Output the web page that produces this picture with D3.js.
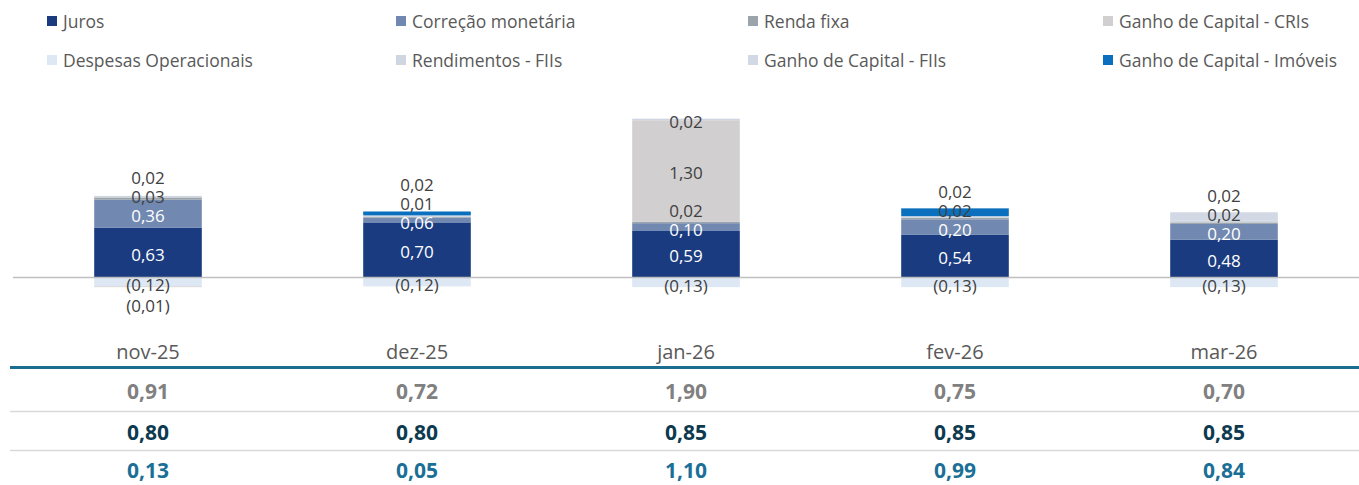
<!DOCTYPE html>
<html>
<head>
<meta charset="utf-8">
<script src="https://cdn.jsdelivr.net/npm/d3@7"></script>
<style>
  html, body { margin: 0; padding: 0; background: #ffffff; }
  svg { display: block; }
  text { font-family: "Open Sans", "Noto Sans", sans-serif; }
</style>
</head>
<body>
<svg id="chart" width="1359" height="485"></svg>
<script>
// ---------------- DATA ----------------
const months = ["nov-25", "dez-25", "jan-26", "fev-26", "mar-26"];

const seriesNames = [
  "Juros", "Correção monetária", "Renda fixa", "Ganho de Capital - CRIs",
  "Despesas Operacionais", "Rendimentos - FIIs", "Ganho de Capital - FIIs", "Ganho de Capital - Imóveis"
];

const juros        = [0.63, 0.70, 0.59, 0.54, 0.48];
const correcao     = [0.36, 0.06, 0.10, 0.20, 0.20];
const rendaFixa    = [0.03, 0.01, 0.02, 0.02, 0.02];
const ganhoCRIs    = [-0.01, 0.00, 1.30, 0.00, 0.00];
const despesas     = [-0.12, -0.12, -0.13, -0.13, -0.13];
const rendFIIs     = [0.02, 0.02, 0.02, 0.02, 0.02];
const ganhoFIIs    = [0.00, 0.00, 0.00, 0.00, 0.11];
const ganhoImoveis = [0.00, 0.05, 0.00, 0.10, 0.00];

const tableRow1 = [0.91, 0.72, 1.90, 0.75, 0.70];
const tableRow2 = [0.80, 0.80, 0.85, 0.85, 0.85];
const tableRow3 = [0.13, 0.05, 1.10, 0.99, 0.84];

// ---------------- STYLE ----------------
const seriesValues = {
  "Juros": juros,
  "Correção monetária": correcao,
  "Renda fixa": rendaFixa,
  "Ganho de Capital - CRIs": ganhoCRIs,
  "Despesas Operacionais": despesas,
  "Rendimentos - FIIs": rendFIIs,
  "Ganho de Capital - FIIs": ganhoFIIs,
  "Ganho de Capital - Imóveis": ganhoImoveis
};
const colors = {
  "Juros": "#1a3b80",
  "Correção monetária": "#7189b1",
  "Renda fixa": "#9ba4aa",
  "Ganho de Capital - CRIs": "#d1cfd0",
  "Despesas Operacionais": "#dde8f4",
  "Rendimentos - FIIs": "#cfd6e2",
  "Ganho de Capital - FIIs": "#d2d9e5",
  "Ganho de Capital - Imóveis": "#0a70bd"
};
const whiteLabel = new Set(["Juros", "Correção monetária"]);
const unlabeled = new Set(["Ganho de Capital - FIIs", "Ganho de Capital - Imóveis"]);

// stacking order (Despesas first so it sits next to the axis on the negative side)
const stackKeys = ["Despesas Operacionais", "Juros", "Correção monetária", "Renda fixa",
  "Ganho de Capital - CRIs", "Rendimentos - FIIs", "Ganho de Capital - FIIs", "Ganho de Capital - Imóveis"];

const rows = months.map((m, i) => {
  const r = { month: m };
  seriesNames.forEach(s => r[s] = seriesValues[s][i]);
  return r;
});

const svg = d3.select("#chart");

const x = d3.scaleBand().domain(months).range([13.5, 1358.5]).paddingInner(0.6).paddingOuter(0.3);
const y = d3.scaleLinear().domain([-0.5, 2.2]).range([277 + 0.5 * 78, 277 - 2.2 * 78]);

const stack = d3.stack().keys(stackKeys).offset(d3.stackOffsetDiverging);
const stacked = stack(rows);

const fmt = v => {
  const s = d3.format(".2f")(Math.abs(v)).replace(".", ",");
  return v < 0 ? "(" + s + ")" : s;
};

// bars
const g = svg.append("g");
stacked.forEach(layer => {
  g.selectAll(null).data(layer.filter(d => Math.abs(d[1] - d[0]) > 1e-9)).enter()
    .append("rect")
    .attr("x", d => x(d.data.month))
    .attr("width", x.bandwidth())
    .attr("y", d => y(Math.max(d[0], d[1])))
    .attr("height", d => Math.abs(y(d[0]) - y(d[1])))
    .attr("fill", colors[layer.key]);
});

// axis line at zero
svg.append("line")
  .attr("x1", 13).attr("x2", 1359)
  .attr("y1", y(0) + 0.5).attr("y2", y(0) + 0.5)
  .attr("stroke", "#bfbfbf").attr("stroke-width", 1.5);

// labels with simple collision push
const gapUp = 19, gapDown = 21;
months.forEach((m, i) => {
  let prevPos = Infinity, prevNeg = -Infinity;
  stacked.forEach(layer => {
    const d = layer[i];
    const v = d.data[layer.key];
    if (Math.abs(v) < 1e-9 || unlabeled.has(layer.key)) return;
    let cy = (y(d[0]) + y(d[1])) / 2 + 2;
    if (v > 0) {
      cy = Math.min(cy, prevPos - gapUp);
      prevPos = cy;
    } else {
      cy = Math.max(cy + 1, prevNeg + gapDown);
      prevNeg = cy;
    }
    svg.append("text")
      .attr("x", x(m) + x.bandwidth() / 2)
      .attr("y", cy)
      .attr("text-anchor", "middle")
      .attr("dominant-baseline", "central")
      .attr("font-size", 17)
      .attr("fill", whiteLabel.has(layer.key) ? "#ffffff" : "#404040")
      .text(fmt(v));
  });
});

// category labels
svg.selectAll(".cat").data(months).enter().append("text")
  .attr("x", d => x(d) + x.bandwidth() / 2)
  .attr("y", 351)
  .attr("text-anchor", "middle")
  .attr("dominant-baseline", "central")
  .attr("font-size", 20)
  .attr("fill", "#595959")
  .text(d => d);

// table lines
svg.append("line").attr("x1", 10).attr("x2", 1359).attr("y1", 367.5).attr("y2", 367.5)
  .attr("stroke", "#1a6e8f").attr("stroke-width", 3);
[411.5, 450.5].forEach(ly => {
  svg.append("line").attr("x1", 10).attr("x2", 1359).attr("y1", ly).attr("y2", ly)
    .attr("stroke", "#d9d9d9").attr("stroke-width", 1.5);
});

const tableRows = [
  { vals: tableRow1, color: "#808080", y: 391 },
  { vals: tableRow2, color: "#0d3a4f", y: 432 },
  { vals: tableRow3, color: "#1b6f96", y: 470 }
];
tableRows.forEach(r => {
  svg.selectAll(null).data(r.vals).enter().append("text")
    .attr("x", (d, i) => x(months[i]) + x.bandwidth() / 2)
    .attr("y", r.y)
    .attr("text-anchor", "middle")
    .attr("dominant-baseline", "central")
    .attr("font-size", 21)
    .attr("font-weight", "bold")
    .attr("fill", r.color)
    .text(d => fmt(d));
});

// legend
const legendCols = [47, 396, 748, 1103];
const legendRows = [21, 60];
seriesNames.forEach((s, i) => {
  const lx = legendCols[i % 4], ly = legendRows[Math.floor(i / 4)];
  svg.append("rect").attr("x", lx).attr("y", ly - 5).attr("width", 10).attr("height", 10)
    .attr("fill", colors[s]);
  svg.append("text").attr("x", lx + 16).attr("y", ly)
    .attr("dominant-baseline", "central")
    .attr("font-size", 17.5)
    .attr("fill", "#595959")
    .text(s);
});
</script>
</body>
</html>
